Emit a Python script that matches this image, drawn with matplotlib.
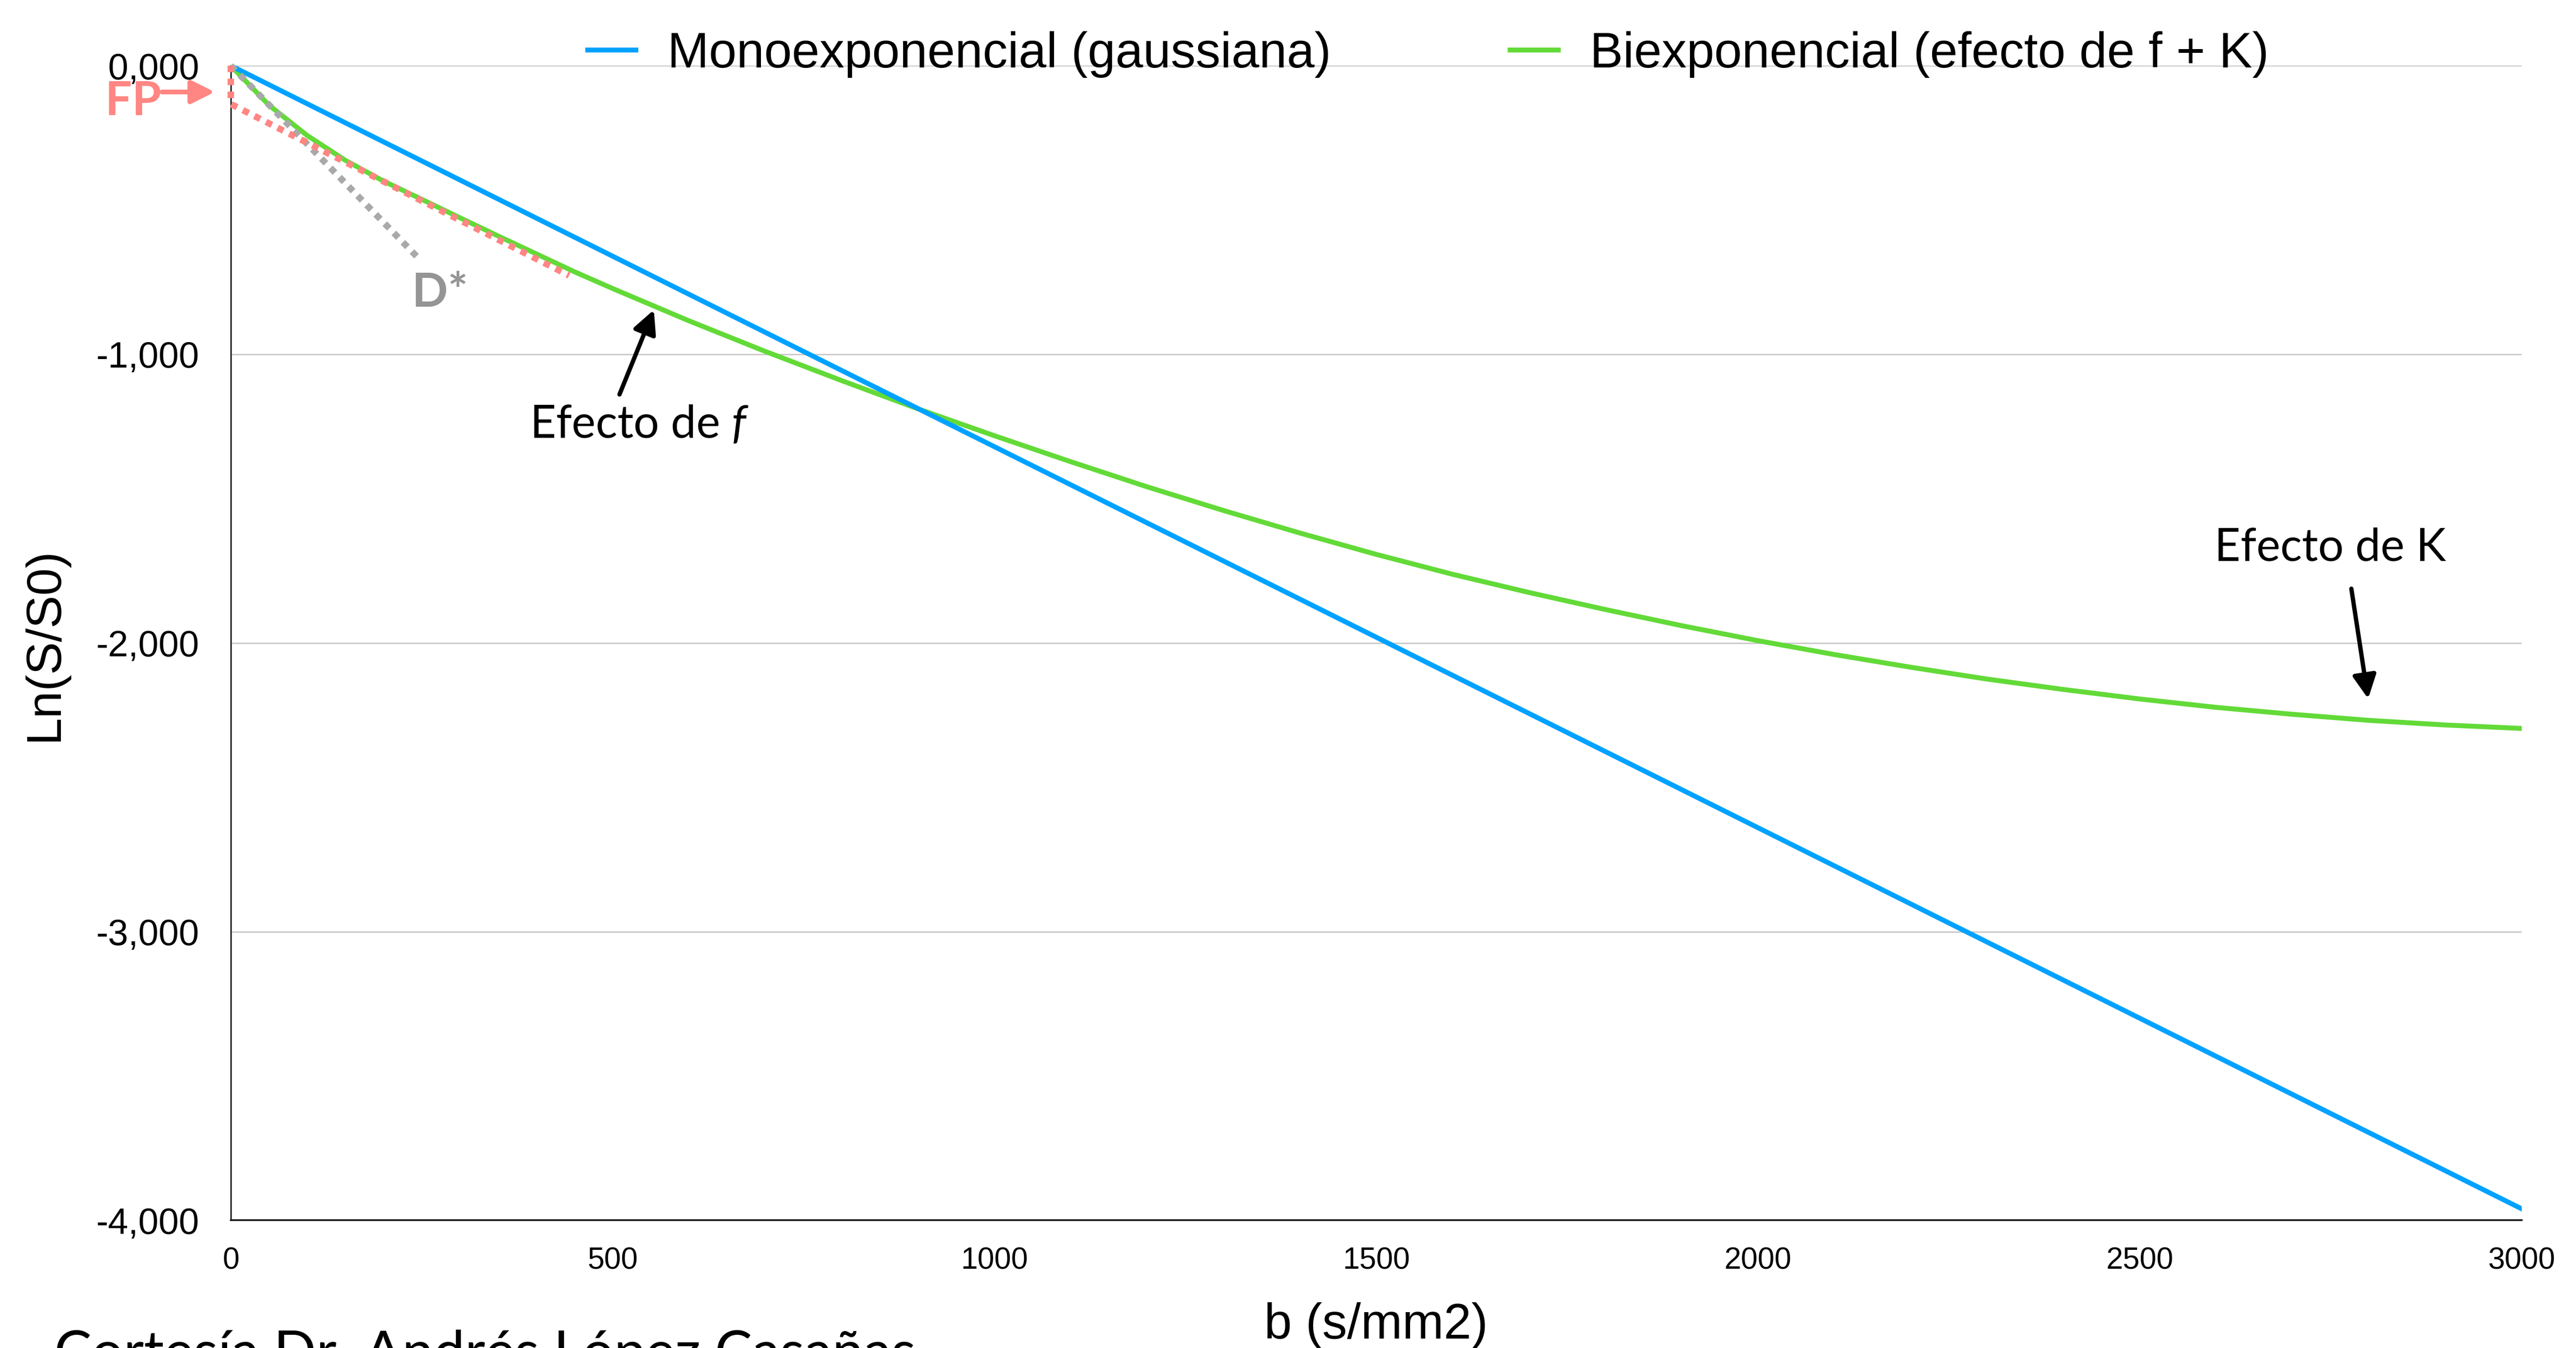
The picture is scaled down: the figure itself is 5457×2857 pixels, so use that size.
import matplotlib

matplotlib.use("Agg")
import matplotlib.pyplot as plt

plt.rcParams["font.family"] = ["Liberation Sans", "DejaVu Sans"]
plt.rcParams["mathtext.fontset"] = "custom"
plt.rcParams["mathtext.rm"] = "Lato"
plt.rcParams["mathtext.it"] = "Lato:italic"

# valores
b_mono = [0, 3000]
ln_mono = [0.0, -3.96]

b_biexp = [0, 50, 100, 150, 200, 250, 300, 350, 400, 450, 500, 600, 700, 800,
           900, 1000, 1100, 1200, 1300, 1400, 1500, 1600, 1700, 1800, 1900,
           2000, 2100, 2200, 2300, 2400, 2500, 2600, 2700, 2800, 2900, 3000]
ln_biexp = [0.0, -0.137, -0.242, -0.328, -0.400, -0.463, -0.527, -0.590,
            -0.652, -0.714, -0.772, -0.884, -0.990, -1.091, -1.189, -1.282,
            -1.372, -1.459, -1.541, -1.619, -1.693, -1.762, -1.825, -1.884,
            -1.940, -1.992, -2.040, -2.084, -2.125, -2.161, -2.194, -2.223,
            -2.247, -2.268, -2.284, -2.296]

b_fp = [0, 0, 443]
ln_fp = [0.0, -0.133, -0.727]

b_dstar = [0, 245]
ln_dstar = [0.0, -0.665]

y_ticks = [0, -1, -2, -3, -4]
x_ticks = [0, 500, 1000, 1500, 2000, 2500, 3000]

BLUE = "#00A2FF"
GREEN = "#63DA38"
SALMON = "#FF8682"
GREY = "#A9A9A9"
NOTE_FONT = "Lato"


def coma(v, _pos=None):
    txt = f"{abs(v):.3f}".replace(".", ",")
    return txt if v == 0 else "-" + txt


fig = plt.figure(figsize=(5457 / 300, 2857 / 300), dpi=300)
ax = fig.add_axes([0.0896, 0.0947, 0.8893, 0.8566])

ax.plot(b_biexp, ln_biexp, color=GREEN, lw=2.5, zorder=3,
        solid_joinstyle="round", label="Biexponencial (efecto de f + K)")
ax.plot(b_mono, ln_mono, color=BLUE, lw=2.5, zorder=4,
        label="Monoexponencial (gaussiana)")
ax.plot(b_dstar, ln_dstar, color=GREY, lw=3.3, ls=(0, (1, 1)),
        dash_capstyle="butt", zorder=5, clip_on=False)
ax.plot(b_fp, ln_fp, color=SALMON, lw=3.3, ls=(0, (1, 1)),
        dash_capstyle="butt", zorder=6, clip_on=False)

ax.set_xlim(0, 3000)
ax.set_ylim(-4, 0)
ax.set_xticks(x_ticks)
ax.set_yticks(y_ticks)
ax.yaxis.set_major_formatter(coma)
ax.tick_params(axis="both", length=0)
ax.tick_params(axis="y", labelsize=18.5, pad=16)
ax.tick_params(axis="x", labelsize=15.4, pad=13.5)
ax.grid(axis="y", color="#C8C8C8", lw=0.7)
ax.set_axisbelow(True)
ax.spines[["top", "right"]].set_visible(False)
ax.spines["left"].set_linewidth(0.7)
ax.spines["left"].set_color("#1a1a1a")
ax.spines["bottom"].set_linewidth(0.9)
ax.spines["bottom"].set_color("#1a1a1a")

handles, labels = ax.get_legend_handles_labels()
fig.legend(handles[::-1], labels[::-1], loc="center", ncol=2,
           bbox_to_anchor=(0.5545, 0.9597), frameon=False, fontsize=25.3,
           handlelength=0.96, handletextpad=0.64, columnspacing=3.6)

fig.text(95 / 5457, 0.522, "Ln(S/S0)", rotation=90, ha="center", va="center",
         fontsize=25)
fig.text(0.5342, 1 - 2760 / 2857, "b (s/mm2)", ha="center", va="top",
         fontsize=25.3)
fig.text(115 / 5457, 1 - 2905 / 2857, "Cortesía Dr. Andrés López Casañas",
         ha="left", va="baseline", fontsize=28.5, family=NOTE_FONT)

arrow_black = dict(arrowstyle="-|>", color="black", lw=2.2,
                   mutation_scale=25, shrinkA=0, shrinkB=0)
ax.annotate("", xy=(554, -0.846), xytext=(509, -1.139),
            arrowprops=arrow_black, zorder=7)
ax.text(535, -1.29, r"Efecto de $f$", ha="center", va="baseline",
        fontsize=23, family=NOTE_FONT)

ax.annotate("", xy=(2799, -2.193), xytext=(2777, -1.812),
            arrowprops=arrow_black, zorder=7)
ax.text(2749, -1.715, "Efecto de K", ha="center", va="baseline",
        fontsize=23, family=NOTE_FONT)

ax.annotate("", xy=(-21, -0.0913), xytext=(-90, -0.0913),
            arrowprops=dict(arrowstyle="-|>", color=SALMON, lw=2.4,
                            mutation_scale=25, shrinkA=0, shrinkB=0),
            annotation_clip=False, zorder=7)
ax.text(-128, -0.171, "FP", ha="center", va="baseline", fontsize=24,
        fontweight="bold", color=SALMON, family=NOTE_FONT, clip_on=False)
ax.text(274, -0.835, "D*", ha="center", va="baseline", fontsize=24,
        fontweight="bold", color="#959595", family=NOTE_FONT)

fig.savefig("out.png", dpi=300)
